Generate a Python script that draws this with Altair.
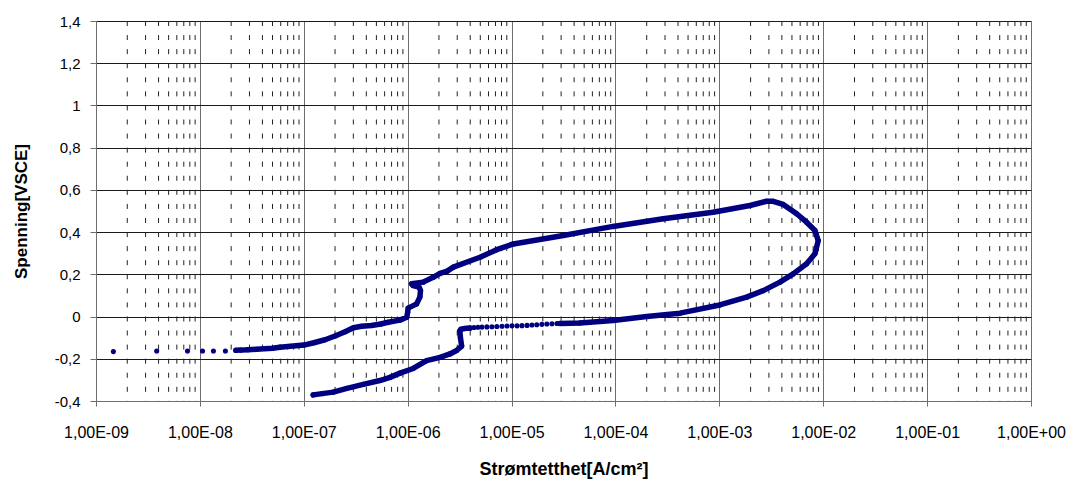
import altair as alt
import pandas as pd

NAVY = "#000080"

# Axis ticks and labels
x_ticks = [1e-9, 1e-8, 1e-7, 1e-6, 1e-5, 1e-4, 1e-3, 1e-2, 1e-1, 1.0]
x_labels = ["1,00E-09", "1,00E-08", "1,00E-07", "1,00E-06", "1,00E-05",
            "1,00E-04", "1,00E-03", "1,00E-02", "1,00E-01", "1,00E+00"]
y_ticks = [-0.4, -0.2, 0.0, 0.2, 0.4, 0.6, 0.8, 1.0, 1.2, 1.4]
y_labels = ["-0,4", "-0,2", "0", "0,2", "0,4", "0,6", "0,8", "1", "1,2", "1,4"]
minor_ticks = [m * d for d in x_ticks[:-1] for m in range(2, 10)]

# Segment A: sparse points at the start of the scan (points only)
a_x = [1.47e-9, 3.84e-9, 7.6e-9, 1.06e-8, 1.35e-8, 1.76e-8]
a_y = [-0.166, -0.163, -0.163, -0.163, -0.163, -0.163]

# Segment B: dense forward scan and return (line)
b_x = [2.22e-8, 2.5e-8, 2.9e-8, 3.5e-8, 5.0e-8, 5.9e-8, 7.0e-8, 1.0e-7, 1.25e-7,
       1.6e-7, 2.0e-7, 2.5e-7, 3.0e-7, 3.6e-7, 4.5e-7, 5.5e-7, 6.5e-7, 8.4e-7,
       9.8e-7, 1.0e-6, 1.01e-6, 1.22e-6, 1.31e-6, 1.33e-6, 1.29e-6, 1.125e-6,
       1.09e-6, 1.41e-6, 1.76e-6, 2.05e-6, 2.4e-6, 2.75e-6, 4.97e-6, 7.2e-6,
       1.04e-5, 3.15e-5, 9.5e-5, 2.88e-4, 8.7e-4, 1.97e-3, 2.85e-3, 3.3e-3,
       4.12e-3, 5.55e-3, 6.92e-3, 8.32e-3, 8.95e-3, 8.32e-3, 6.92e-3, 5.14e-3,
       3.83e-3, 2.65e-3, 1.83e-3, 1.01e-3, 4.18e-4, 2.0e-4, 9.5e-5, 4.55e-5,
       2.92e-5]
b_y = [-0.160, -0.159, -0.157, -0.155, -0.150, -0.145, -0.142, -0.135, -0.124,
       -0.110, -0.092, -0.072, -0.053, -0.046, -0.042, -0.035, -0.027, -0.017,
       -0.003, 0.020, 0.040, 0.060, 0.092, 0.123, 0.139, 0.147,
       0.155, 0.163, 0.186, 0.205, 0.215, 0.234, 0.281, 0.317,
       0.344, 0.384, 0.427, 0.463, 0.494, 0.526, 0.546, 0.546,
       0.531, 0.487, 0.447, 0.408, 0.360, 0.297, 0.250, 0.202,
       0.163, 0.123, 0.092, 0.055, 0.016, 0.000, -0.019, -0.030,
       -0.033]

# Segment C: sparse dotted part of the reverse scan (points only)
c_x = [2.74e-5, 2.45e-5, 2.19e-5, 1.96e-5, 1.75e-5, 1.57e-5, 1.41e-5, 1.26e-5,
       1.13e-5, 1.01e-5, 9.04e-6, 8.09e-6, 7.22e-6, 6.47e-6, 5.79e-6, 5.19e-6,
       4.75e-6, 4.35e-6, 3.98e-6]
c_y = [-0.033, -0.034, -0.035, -0.037, -0.039, -0.040, -0.042, -0.043,
       -0.044, -0.044, -0.045, -0.046, -0.047, -0.048, -0.049, -0.050,
       -0.051, -0.052, -0.054]

# Segment D: drop and lower branch (line)
d_x = [3.98e-6, 3.5e-6, 3.25e-6, 3.18e-6, 3.22e-6, 3.31e-6, 2.96e-6, 2.55e-6,
       2.05e-6, 1.52e-6, 1.13e-6, 8.43e-7, 6.76e-7, 5.4e-7, 3.74e-7, 2.6e-7,
       1.92e-7, 1.5e-7, 1.23e-7]
d_y = [-0.054, -0.057, -0.060, -0.068, -0.100, -0.140, -0.161, -0.177,
       -0.193, -0.209, -0.246, -0.268, -0.288, -0.303, -0.321, -0.340,
       -0.358, -0.365, -0.371]

rows = []
for seg, xs, ys in [("A", a_x, a_y), ("B", b_x, b_y), ("C", c_x, c_y), ("D", d_x, d_y)]:
    for xv, yv in zip(xs, ys):
        rows.append({"j": xv, "v": yv, "seg": seg, "i": len(rows)})
df = pd.DataFrame(rows)
minor_df = pd.DataFrame({"j": minor_ticks})

x_label_expr = "[" + ",".join("'%s'" % s for s in x_labels) + "][round(log(datum.value)/LN10)+9]"
y_label_expr = "[" + ",".join("'%s'" % s for s in y_labels) + "][round((datum.value+0.4)/0.2)]"

x_enc = alt.X(
    "j:Q",
    scale=alt.Scale(type="log", domain=[1e-9, 1.0], nice=False),
    axis=alt.Axis(
        values=x_ticks, labelExpr=x_label_expr, title="Strømtetthet[A/cm²]",
        grid=True, gridColor="#6e6e6e", gridWidth=1,
        tickSize=5, labelPadding=18, labelFontSize=16, titlePadding=20,
        titleFontSize=18, labelFlush=False, labelOverlap=False,
    ),
)
y_enc = alt.Y(
    "v:Q",
    scale=alt.Scale(domain=[-0.4, 1.4], nice=False, zero=False),
    axis=alt.Axis(
        values=y_ticks, labelExpr=y_label_expr, title="Spenning[VSCE]",
        grid=True, gridColor="#1a1a1a", gridWidth=1,
        tickSize=6, labelPadding=10, labelFontSize=15, titlePadding=24,
        titleFontSize=17, labelFlush=False, labelOverlap=False,
    ),
)

minor_layer = alt.Chart(minor_df).mark_rule(
    color="#222222", strokeWidth=1, strokeDash=[5, 9.07]
).encode(x=x_enc)

line_layer = alt.Chart(df).transform_filter(
    "datum.seg == 'B' || datum.seg == 'D'"
).mark_line(
    color=NAVY, strokeWidth=5.5, strokeCap="round", strokeJoin="round"
).encode(x=x_enc, y=y_enc, detail="seg:N", order="i:Q")

point_layer = alt.Chart(df).mark_circle(color=NAVY, size=26, opacity=1).encode(
    x=x_enc, y=y_enc
)

chart = (
    alt.layer(minor_layer, line_layer, point_layer)
    .properties(
        width=935,
        height=380,
        padding={"left": 96, "top": 21, "right": 48, "bottom": 86},
        autosize=alt.AutoSizeParams(type="none"),
        background="white",
    )
    .configure_view(stroke=None)
    .configure_axis(
        labelFont="Liberation Sans",
        titleFont="Liberation Sans",
        labelColor="black",
        titleColor="black",
        titleFontWeight="bold",
        domainColor="#6e6e6e",
        tickColor="#6e6e6e",
        domainWidth=1,
        tickWidth=1,
    )
)

chart.save("out.html", embed_options={"renderer": "svg", "actions": False})
